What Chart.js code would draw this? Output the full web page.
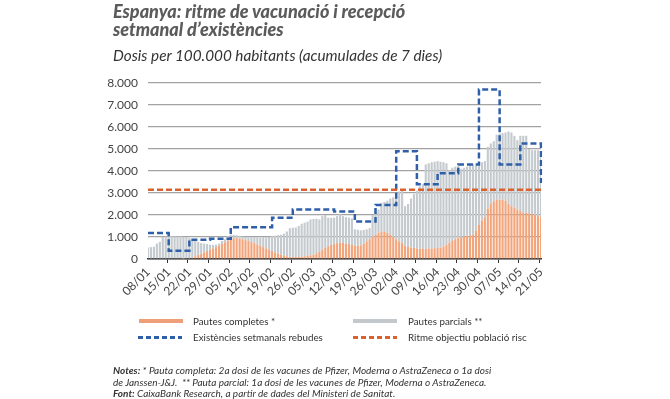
<!DOCTYPE html>
<html>
<head>
<meta charset="utf-8">
<script src="https://cdn.jsdelivr.net/npm/chart.js@4.4.0/dist/chart.umd.min.js"></script>
<style>
  body { margin: 0; width: 670px; height: 399px; background: #fff; position: relative; overflow: hidden; font-family: Lato, sans-serif; }
  #chart { position: absolute; left: 0; top: 0; }
  .title { position: absolute; left: 113px; top: 3px; font-weight: 900; font-style: italic; font-size: 18px; line-height: 17.5px; color: #5b5b5b; white-space: nowrap; }
  .subtitle { position: absolute; left: 113px; top: 47.5px; font-style: italic; font-size: 15.3px; line-height: 15px; color: #333; white-space: nowrap; }
  .lg-text { position: absolute; font-size: 9.8px; line-height: 12px; color: #333; white-space: nowrap; }
  .lg-swatch { position: absolute; width: 44px; }
  .notes { position: absolute; left: 113px; top: 365.4px; font-style: italic; font-size: 10px; line-height: 11.4px; color: #333; white-space: nowrap; }
</style>
</head>
<body>
<canvas id="chart" width="670" height="399"></canvas>

<div class="title">Espanya: ritme de vacunació i recepció<br>setmanal d’existències</div>
<div class="subtitle">Dosis per 100.000 habitants (acumulades de 7 dies)</div>

<div class="lg-swatch" style="left:139px; top:319px; height:4px; background:#ef9f77;"></div>
<div class="lg-text" style="left:193px; top:314.5px;">Pautes completes *</div>
<div class="lg-swatch" style="left:353px; top:319px; height:4px; background:#c3c8cd;"></div>
<div class="lg-text" style="left:408px; top:314.5px;">Pautes parcials **</div>
<div class="lg-swatch" style="left:138px; top:336px; height:2.5px; background:repeating-linear-gradient(90deg, #2f5fa8 0 5px, transparent 5px 8px);"></div>
<div class="lg-text" style="left:193px; top:331px;">Existències setmanals rebudes</div>
<div class="lg-swatch" style="left:353px; top:336px; height:2.5px; background:repeating-linear-gradient(90deg, #d9622f 0 5px, transparent 5px 8px);"></div>
<div class="lg-text" style="left:408px; top:331px;">Ritme objectiu població risc</div>

<div class="notes"><b>Notes:</b> * Pauta completa: 2a dosi de les vacunes de Pfizer, Moderna o AstraZeneca o 1a dosi<br>de Janssen-J&amp;J.&nbsp; ** Pauta parcial: 1a dosi de les vacunes de Pfizer, Moderna o AstraZeneca.<br><b>Font:</b> CaixaBank Research, a partir de dades del Ministeri de Sanitat.</div>

<script>
// Daily categories from 08/01 to 21/05
const startDay = Date.UTC(2021, 0, 8);
const dayCount = 134;
const days = [];
for (let i = 0; i < dayCount; i++) {
    const d = new Date(startDay + i * 86400000);
    days.push(String(d.getUTCDate()).padStart(2, '0') + '/' + String(d.getUTCMonth() + 1).padStart(2, '0'));
}

// Weekly tick labels (also the week starts of the supply line)
const tickLabels = ['08/01', '15/01', '22/01', '29/01', '05/02', '12/02', '19/02', '26/02', '05/03', '12/03',
    '19/03', '26/03', '02/04', '09/04', '16/04', '23/04', '30/04', '07/05', '14/05', '21/05'];

// Pautes completes, daily
const completes = [
    0, 0, 0, 0, 0, 0, 0,
    0, 0, 0, 0, 0, 20, 50,
    30, 60, 120, 180, 240, 300, 360,
    420, 480, 540, 600, 680, 760, 840,
    900, 950, 950, 930, 900, 860, 820,
    770, 720, 660, 600, 540, 480, 420,
    360, 300, 250, 200, 160, 120, 100,
    90, 90, 100, 110, 120, 140, 170,
    200, 260, 330, 420, 500, 580, 640,
    680, 720, 740, 730, 700, 680, 640,
    600, 600, 620, 700, 800, 900, 1000,
    1100, 1200, 1250, 1240, 1200, 1100, 1000,
    900, 800, 720, 600, 550, 520, 500,
    480, 470, 460, 460, 470, 480, 490,
    500, 520, 560, 650, 750, 850, 900,
    950, 1000, 1030, 1050, 1080, 1100, 1300,
    1550, 1750, 1900, 2300, 2500, 2620, 2680,
    2700, 2700, 2650, 2500, 2400, 2330, 2250,
    2180, 2100, 2100, 2080, 2050, 2000, 1950,
    1900
];

// Pautes parcials, daily (stacked on top of completes)
const parcials = [
    520, 540, 560, 700, 780, 1000, 1020,
    1030, 1040, 1030, 1020, 1030, 990, 950,
    930, 840, 730, 600, 480, 400, 320,
    230, 160, 110, 100, 140, 140, 210,
    200, 150, 130, 120, 120, 140, 170,
    220, 280, 330, 380, 460, 510, 580,
    690, 760, 830, 900, 990, 1130, 1300,
    1330, 1340, 1400, 1490, 1530, 1560, 1630,
    1620, 1570, 1470, 1530, 1500, 1300, 1230,
    1200, 1230, 1310, 1220, 1200, 1200, 1210,
    750, 730, 680, 620, 550, 500, 1000,
    1050, 1050, 1300, 1360, 1450, 1650, 1800,
    2020, 2270, 2380, 1800, 1950, 2230, 2450,
    2620, 2830, 2940, 3840, 3880, 3920, 3930,
    3950, 3900, 3840, 3700, 3300, 3300, 3300,
    3300, 3100, 3120, 3150, 3170, 3200, 3050,
    2850, 2650, 2550, 2800, 2750, 2730, 2970,
    3000, 3020, 3100, 3300, 3350, 3270, 3150,
    3420, 3500, 3500, 2920, 2900, 2950, 3000,
    2950
];

// Existències setmanals rebudes, one value per week start (last one at 21/05)
const existencies = [1180, 380, 880, 920, 1440, 1440, 1870, 2250, 2250, 2160,
    1700, 2460, 4900, 3400, 3900, 4300, 7700, 4300, 5250, 3450];

// Ritme objectiu població risc
const objectiu = 3150;

function formatThousands(v) {
    return String(v).replace(/\B(?=(\d{3})+(?!\d))/g, '.');
}

new Chart(document.getElementById('chart'), {
    data: {
        labels: days,
        datasets: [
            {
                type: 'bar',
                label: 'Pautes completes *',
                data: completes,
                backgroundColor: '#f2a47b',
                stack: 'doses',
                order: 2,
                barPercentage: 0.72,
                categoryPercentage: 1
            },
            {
                type: 'bar',
                label: 'Pautes parcials **',
                data: parcials,
                backgroundColor: '#c4cace',
                stack: 'doses',
                order: 2,
                barPercentage: 0.72,
                categoryPercentage: 1
            },
            {
                type: 'line',
                label: 'Existències setmanals rebudes',
                data: tickLabels.map((t, i) => ({ x: t, y: existencies[i] })),
                borderColor: '#2f5fa8',
                borderWidth: 2.5,
                borderDash: [6, 3],
                stepped: 'before',
                pointRadius: 0,
                fill: false,
                stack: 'supply',
                order: 1
            },
            {
                type: 'line',
                label: 'Ritme objectiu població risc',
                data: [{ x: days[0], y: objectiu }, { x: days[dayCount - 1], y: objectiu }],
                borderColor: '#d9622f',
                borderWidth: 2.5,
                borderDash: [6, 3],
                pointRadius: 0,
                fill: false,
                stack: 'target',
                order: 0
            }
        ]
    },
    options: {
        responsive: false,
        animation: false,
        layout: { padding: { left: 100, right: 129, top: 83, bottom: 95 } },
        plugins: {
            legend: { display: false },
            tooltip: { enabled: false }
        },
        scales: {
            x: {
                stacked: true,
                offset: false,
                afterFit: function(scale) { scale.height = 45; },
                grid: {
                    drawOnChartArea: false,
                    drawTicks: true,
                    tickLength: 4,
                    color: ctx => tickLabels.includes(days[ctx.index]) ? '#333' : 'rgba(0,0,0,0)'
                },
                border: { color: '#333', width: 1.5 },
                ticks: {
                    autoSkip: false,
                    maxRotation: 45,
                    minRotation: 45,
                    padding: 2,
                    color: '#444',
                    font: { family: 'Lato', size: 12 },
                    callback: function(value, index) {
                        return tickLabels.includes(days[index]) ? days[index] : '';
                    }
                }
            },
            y: {
                stacked: true,
                min: 0,
                max: 8000,
                afterFit: function(scale) { scale.width = 48; },
                grid: { color: '#a3a3a3', lineWidth: 1.3, drawTicks: false },
                border: { display: false },
                ticks: {
                    stepSize: 1000,
                    padding: 10,
                    color: '#444',
                    font: { family: 'Lato', size: 12 },
                    callback: v => formatThousands(v)
                }
            }
        }
    }
});
</script>
</body>
</html>
